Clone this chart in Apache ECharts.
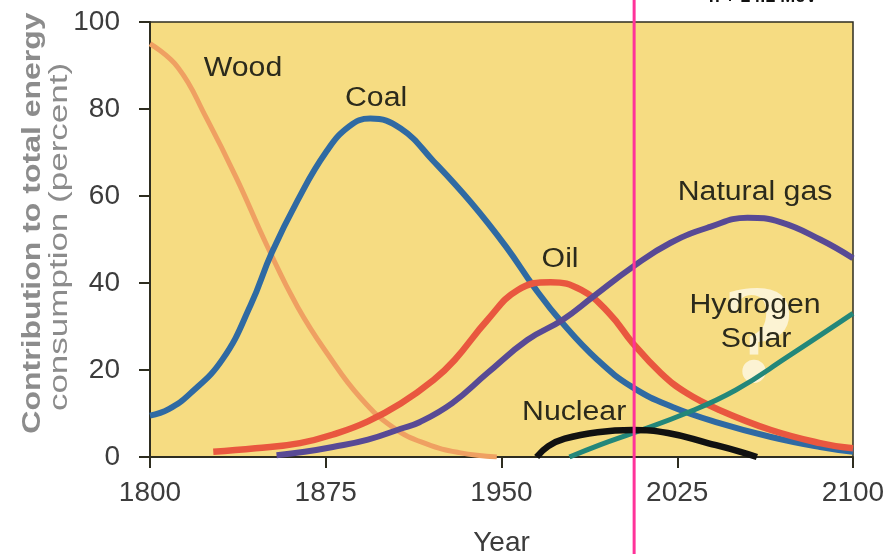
<!DOCTYPE html>
<html>
<head>
<meta charset="utf-8">
<script src="https://cdn.jsdelivr.net/npm/echarts@6/dist/echarts.min.js"></script>
<style>
html, body { margin: 0; padding: 0; background: #fff; }
#chart { width: 889px; height: 554px; }
</style>
</head>
<body>
<div id="chart"></div>
<script>
// axis ticks
const xTicks = [1800, 1875, 1950, 2025, 2100];
const yTicks = [0, 20, 40, 60, 80, 100];

// [year, percent]
const wood = [[1800, 95], [1812, 89.5], [1824, 78], [1837, 64], [1850, 48.5], [1863, 34.5],
  [1876, 23.5], [1890, 13.5], [1904, 6.7], [1918, 3], [1932, 1], [1948, 0]];
const coal = [[1800, 9.5], [1808, 11], [1817, 14.5], [1831, 22.5], [1843, 35], [1852, 47],
  [1863, 59], [1875, 70], [1885, 76], [1894, 77.8], [1907, 75.5], [1921, 68], [1937, 58.5],
  [1952, 48.3], [1964, 39], [1976, 30.8], [1991, 22.3], [2006, 16], [2023, 11.5],
  [2043, 7.8], [2065, 4.6], [2086, 2.3], [2100, 1.2]];
const oil = [[1827, 1.2], [1845, 2], [1864, 3.2], [1880, 5.5], [1893, 8.2], [1907, 12.3],
  [1921, 17.7], [1930, 22.3], [1944, 31.5], [1957, 38.4], [1971, 40.2], [1984, 38.4],
  [1996, 33], [2006, 26.2], [2018, 19.3], [2029, 14.7], [2043, 10.8], [2065, 6.2],
  [2086, 3.2], [2100, 2]];
const naturalGas = [[1854, 0.4], [1866, 1.2], [1878, 2.3], [1893, 4], [1907, 6.5], [1915, 8],
  [1929, 12.4], [1944, 19.3], [1961, 26.9], [1976, 31.5], [1989, 36.8], [2006, 43.7],
  [2022, 49.2], [2039, 52.9], [2055, 55], [2069, 54], [2086, 50], [2100, 45.7]];
const hydrogenSolar = [[1979, 0], [1992, 2.8], [2006, 5.5], [2029, 10.1], [2050, 15.4],
  [2072, 23], [2100, 33]];
const nuclear = [[1965, 0], [1970, 2.5], [1977, 4.2], [1991, 5.7], [2006, 6.2], [2021, 5.5],
  [2038, 3.2], [2052, 1.2], [2059, 0]];

const markerYear = 2006.6; // pink vertical marker

// curve names and where they sit (data coords)
const curveLabels = [
  { text: 'Wood', at: [1839.7, 89.3] },
  { text: 'Coal', at: [1896.5, 82.3] },
  { text: 'Oil', at: [1975, 45.3] },
  { text: 'Natural gas', at: [2058.2, 60.7] },
  { text: 'Hydrogen', at: [2058.2, 34.9] },
  { text: 'Solar', at: [2058.6, 26.9] },
  { text: 'Nuclear', at: [1981, 10.3] }
];

const axisColor = '#2e2d20';
const labelColor = '#3c3c3c';
const fontFamily = '"Liberation Sans", Arial, sans-serif';

function lineSeries(name, data, color, width) {
  return {
    name: name,
    type: 'line',
    data: data,
    smooth: 0.45,
    showSymbol: false,
    silent: true,
    lineStyle: { color: color, width: width },
    z: 3
  };
}

const chart = echarts.init(document.getElementById('chart'));

chart.setOption({
  animation: false,
  backgroundColor: '#fff',
  grid: {
    left: 150, right: 36, top: 22, bottom: 97,
    outerBoundsMode: 'none',
    show: true,
    backgroundColor: '#f6dc82',
    borderColor: axisColor,
    borderWidth: 1.5
  },
  xAxis: {
    type: 'value',
    min: xTicks[0],
    max: xTicks[xTicks.length - 1],
    interval: 75,
    name: 'Year',
    nameLocation: 'middle',
    nameGap: 72,
    nameTextStyle: { fontSize: 28, color: labelColor, fontFamily: fontFamily },
    axisLine: { lineStyle: { color: axisColor, width: 2 } },
    axisTick: { length: 11, lineStyle: { color: axisColor, width: 2 } },
    axisLabel: {
      margin: 22, fontSize: 28, color: labelColor, fontFamily: fontFamily,
      formatter: function (v) { return String(v); }
    },
    splitLine: { show: false }
  },
  yAxis: {
    type: 'value',
    min: yTicks[0],
    max: yTicks[yTicks.length - 1],
    interval: 20,
    axisLine: { show: true, lineStyle: { color: axisColor, width: 2 } },
    axisTick: { show: true, length: 11, lineStyle: { color: axisColor, width: 2 } },
    axisLabel: { margin: 30, fontSize: 28, color: labelColor, fontFamily: fontFamily },
    splitLine: { show: false }
  },
  series: [
    lineSeries('Wood', wood, '#efa062', 5),
    lineSeries('Coal', coal, '#2f6aa3', 6),
    lineSeries('Oil', oil, '#e9573f', 6.5),
    lineSeries('Natural gas', naturalGas, '#584a95', 6),
    lineSeries('Hydrogen Solar', hydrogenSolar, '#23877a', 5),
    lineSeries('Nuclear', nuclear, '#111111', 6.5)
  ]
});

function px(pt) {
  return chart.convertToPixel({ gridIndex: 0 }, pt);
}

const graphics = [];

// faint question mark behind Hydrogen / Solar
const q = px([2059.5, 25]);
graphics.push({
  type: 'text', x: q[0], y: q[1], z: 2,
  style: {
    text: '?', align: 'center', verticalAlign: 'middle',
    font: 'bold 125px "DejaVu Serif", serif',
    fill: 'rgba(255,255,255,0.65)'
  }
});

curveLabels.forEach(function (l) {
  const p = px(l.at);
  graphics.push({
    type: 'text', x: p[0], y: p[1], scaleX: 1.12, z: 5,
    style: {
      text: l.text, align: 'center', verticalAlign: 'middle',
      font: '27px ' + fontFamily, fill: '#2b2a1c'
    }
  });
});

// y axis title, two rotated lines
graphics.push({
  type: 'text', x: 33, y: 223, rotation: Math.PI / 2, scaleX: 1.28, z: 5,
  style: {
    text: 'Contribution to total energy', align: 'center', verticalAlign: 'middle',
    font: 'bold 25px ' + fontFamily, fill: '#8c8c8c'
  }
});
graphics.push({
  type: 'text', x: 60, y: 237, rotation: Math.PI / 2, scaleX: 1.4, z: 5,
  style: {
    text: 'consumption (percent)', align: 'center', verticalAlign: 'middle',
    font: '25px ' + fontFamily, fill: '#8c8c8c'
  }
});

// text cut off at the top edge
graphics.push({
  type: 'text', x: 763, y: 6, z: 5,
  style: {
    text: 'n + 14.1 MeV', align: 'center', verticalAlign: 'bottom',
    font: 'bold 18px ' + fontFamily, fill: '#111'
  }
});

// pink marker line through the whole picture
const m = px([markerYear, 0]);
graphics.push({
  type: 'line', z: 10,
  shape: { x1: m[0], y1: 0, x2: m[0], y2: 554 },
  style: { stroke: '#ff3399', lineWidth: 3 }
});

chart.setOption({ graphic: graphics });
</script>
</body>
</html>
